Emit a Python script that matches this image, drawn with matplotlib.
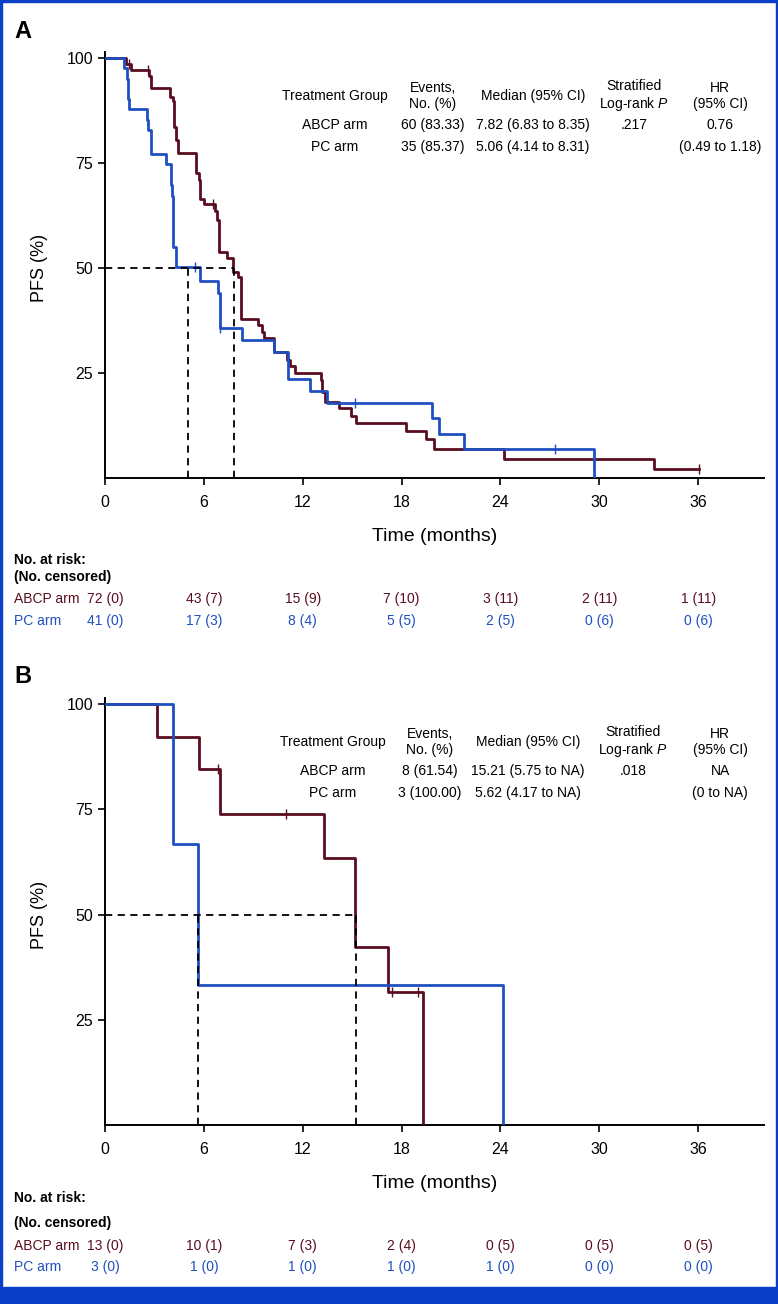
import matplotlib
matplotlib.use("Agg")
import matplotlib.pyplot as plt
import matplotlib.transforms as mtransforms
from matplotlib.patches import Rectangle

plt.rcParams['font.family'] = ['Liberation Sans', 'DejaVu Sans']
plt.rcParams['mathtext.fontset'] = 'custom'
plt.rcParams['mathtext.rm'] = 'Liberation Sans'
plt.rcParams['mathtext.it'] = 'Liberation Sans:italic'

# ---- data ----
# panel A: step curves (time in months, PFS %)
a_abcp_t = [0, 1.27, 1.6, 2.7, 2.8, 3.94, 4.1, 4.2, 4.3, 4.44, 5.52, 5.7, 5.76, 6.0, 6.68,
            6.8, 6.9, 7.43, 7.78, 8.08, 8.28, 9.29, 9.5, 9.65, 10.24, 11.05, 11.2, 11.55,
            13.1, 13.2, 13.33, 14.2, 14.95, 15.25, 18.28, 19.5, 19.94, 24.24, 33.33, 36.06]
a_abcp_s = [100, 98.6, 97.2, 95.8, 92.9, 90.8, 89.9, 83.6, 80.5, 77.5, 72.7, 71.0, 66.4, 65.2, 63.6,
            61.4, 53.9, 52.3, 49.1, 47.9, 38.0, 36.4, 34.8, 33.3, 30.1, 28.1, 26.7, 24.9,
            23.3, 20.6, 18.2, 16.6, 14.8, 13.0, 11.2, 9.2, 6.8, 4.5, 2.1, 2.1]
a_abcp_cens_t = [1.45, 2.6, 6.55, 36.06]
a_abcp_cens_s = [98.6, 97.2, 65.2, 2.1]

a_pc_t = [0, 1.17, 1.31, 1.41, 1.47, 2.52, 2.62, 2.77, 3.68, 3.98, 4.05, 4.14, 4.28, 5.76,
          6.87, 6.97, 8.32, 10.24, 11.1, 12.42, 13.5, 19.84, 20.26, 21.78, 29.66]
a_pc_s = [100, 97.6, 95.1, 90.2, 87.8, 85.4, 82.9, 77.3, 74.9, 69.8, 67.3, 55.0, 50.3, 46.9,
          44.0, 35.8, 32.9, 30.1, 23.7, 20.8, 17.8, 14.2, 10.5, 6.9, 0]
a_pc_cens_t = [5.45, 6.97, 15.2, 27.3]
a_pc_cens_s = [50.3, 35.8, 17.8, 6.9]

a_medians = [5.06, 7.82]

# panel B
b_abcp_t = [0, 3.13, 5.72, 6.97, 13.27, 15.15, 17.15, 19.3]
b_abcp_s = [100, 92.3, 84.6, 74.0, 63.4, 42.3, 31.7, 0]
b_abcp_cens_t = [6.87, 11.0, 17.45, 18.97]
b_abcp_cens_s = [84.6, 74.0, 31.7, 31.7]

b_pc_t = [0, 4.14, 5.62, 24.16]
b_pc_s = [100, 66.7, 33.3, 0]

b_medians = [5.62, 15.21]

x_ticks = [0, 6, 12, 18, 24, 30, 36]
y_ticks = [25, 50, 75, 100]

header = ["Treatment Group", "Events,\nNo. (%)", "Median (95% CI)",
          "Stratified\nLog-rank $\\it{P}$", "HR\n(95% CI)"]
a_rows = [["ABCP arm", "60 (83.33)", "7.82 (6.83 to 8.35)", ".217", "0.76"],
          ["PC arm", "35 (85.37)", "5.06 (4.14 to 8.31)", "", "(0.49 to 1.18)"]]
b_rows = [["ABCP arm", "8 (61.54)", "15.21 (5.75 to NA)", ".018", "NA"],
          ["PC arm", "3 (100.00)", "5.62 (4.17 to NA)", "", "(0 to NA)"]]

a_risk_abcp = ["72 (0)", "43 (7)", "15 (9)", "7 (10)", "3 (11)", "2 (11)", "1 (11)"]
a_risk_pc = ["41 (0)", "17 (3)", "8 (4)", "5 (5)", "2 (5)", "0 (6)", "0 (6)"]
b_risk_abcp = ["13 (0)", "10 (1)", "7 (3)", "2 (4)", "0 (5)", "0 (5)", "0 (5)"]
b_risk_pc = ["3 (0)", "1 (0)", "1 (0)", "1 (0)", "1 (0)", "0 (0)", "0 (0)"]

MAROON = '#5a0d1f'
BLUE = '#1f4fc0'
FRAME = '#0c3fc8'

W, H = 778, 1304
fig = plt.figure(figsize=(W / 100, H / 100), dpi=100)


def fx(x):
    return x / W


def fy(y):
    return 1 - y / H


def draw_panel(rect, letter, letter_y, abcp, pc, abcp_cens, pc_cens, medians,
               rows, table_y, cols, risk_y, risk_abcp, risk_pc, ylab_y):
    ax = fig.add_axes(rect)
    ax.step(abcp[0], abcp[1], where='post', color=MAROON, lw=2, zorder=3)
    ax.step(pc[0], pc[1], where='post', color=BLUE, lw=2, zorder=3)
    if abcp_cens:
        ax.plot(abcp_cens[0], abcp_cens[1], ls='none', marker='|', ms=7, mew=1,
                color=MAROON, zorder=3)
    if pc_cens:
        ax.plot(pc_cens[0], pc_cens[1], ls='none', marker='|', ms=7, mew=1,
                color=BLUE, zorder=3)
    # median lines
    ax.plot([0, max(medians)], [50, 50], color='black', lw=1.3, ls=(0, (4, 3)), zorder=4)
    for m in medians:
        ax.plot([m, m], [0, 50], color='black', lw=1.3, ls=(0, (4, 3)), zorder=4)

    ax.set_xlim(0, 40)
    ax.set_ylim(0, 101.5)
    ax.set_xticks(x_ticks)
    ax.set_yticks(y_ticks)
    for s in ['top', 'right']:
        ax.spines[s].set_visible(False)
    for s in ['left', 'bottom']:
        ax.spines[s].set_linewidth(1.4)
    ax.tick_params(direction='out', length=5, width=1.2, labelsize=11.5)
    ax.tick_params(axis='x', pad=7)
    ax.set_xlabel('Time (months)', fontsize=14, labelpad=13)

    fig.text(fx(40), fy(ylab_y), 'PFS (%)', rotation=90, ha='center', va='center',
             fontsize=13)
    fig.text(fx(14), fy(letter_y), letter, fontsize=17, fontweight='bold',
             ha='left', va='baseline')

    # summary table
    hy, r1, r2 = table_y
    for c, h in zip(cols, header):
        fig.text(fx(c), fy(hy), h, ha='center', va='center', fontsize=10,
                 linespacing=1.15)
    for ry, row in zip([r1, r2], rows):
        for c, v in zip(cols, row):
            fig.text(fx(c), fy(ry), v, ha='center', va='center', fontsize=10)

    # number at risk
    blend = mtransforms.blended_transform_factory(ax.transData, fig.transFigure)
    y0, y1, y2, y3 = risk_y
    fig.text(fx(14), fy(y0), 'No. at risk:', fontsize=10, fontweight='bold', va='center')
    fig.text(fx(14), fy(y1), '(No. censored)', fontsize=10, fontweight='bold', va='center')
    fig.text(fx(14), fy(y2), 'ABCP arm', fontsize=10, color=MAROON, va='center')
    fig.text(fx(14), fy(y3), 'PC arm', fontsize=10, color=BLUE, va='center')
    for t, a, p in zip(x_ticks, risk_abcp, risk_pc):
        ax.text(t, fy(y2), a, transform=blend, ha='center', va='center',
                fontsize=10, color=MAROON)
        ax.text(t, fy(y3), p, transform=blend, ha='center', va='center',
                fontsize=10, color=BLUE)
    return ax


draw_panel([fx(105), fy(478), fx(764) - fx(105), 426 / H], 'A', 38,
           (a_abcp_t, a_abcp_s), (a_pc_t, a_pc_s),
           (a_abcp_cens_t, a_abcp_cens_s), (a_pc_cens_t, a_pc_cens_s), a_medians,
           a_rows, (96, 125, 147), [335, 433, 533, 634, 720],
           (560, 577, 599, 621), a_risk_abcp, a_risk_pc, 268)

draw_panel([fx(105), fy(1125), fx(764) - fx(105), 427 / H], 'B', 683,
           (b_abcp_t, b_abcp_s), (b_pc_t, b_pc_s),
           (b_abcp_cens_t, b_abcp_cens_s), None, b_medians,
           b_rows, (742, 771, 793), [333, 430, 528, 633, 720],
           (1198, 1223, 1246, 1267), b_risk_abcp, b_risk_pc, 915)

# blue frame: bottom band, left, right and top lines
fig.patches.append(Rectangle((0, 0), 1, 17 / H, transform=fig.transFigure,
                             color=FRAME, zorder=0))
fig.patches.append(Rectangle((0, 0), fx(1.5), 1, transform=fig.transFigure,
                             color=FRAME, zorder=0))
fig.patches.append(Rectangle((fx(776), 0), fx(2), 1, transform=fig.transFigure,
                             color=FRAME, zorder=0))
fig.patches.append(Rectangle((0, fy(1.5)), 1, 1.5 / H, transform=fig.transFigure,
                             color=FRAME, zorder=0))

fig.savefig('out.png', dpi=100)
